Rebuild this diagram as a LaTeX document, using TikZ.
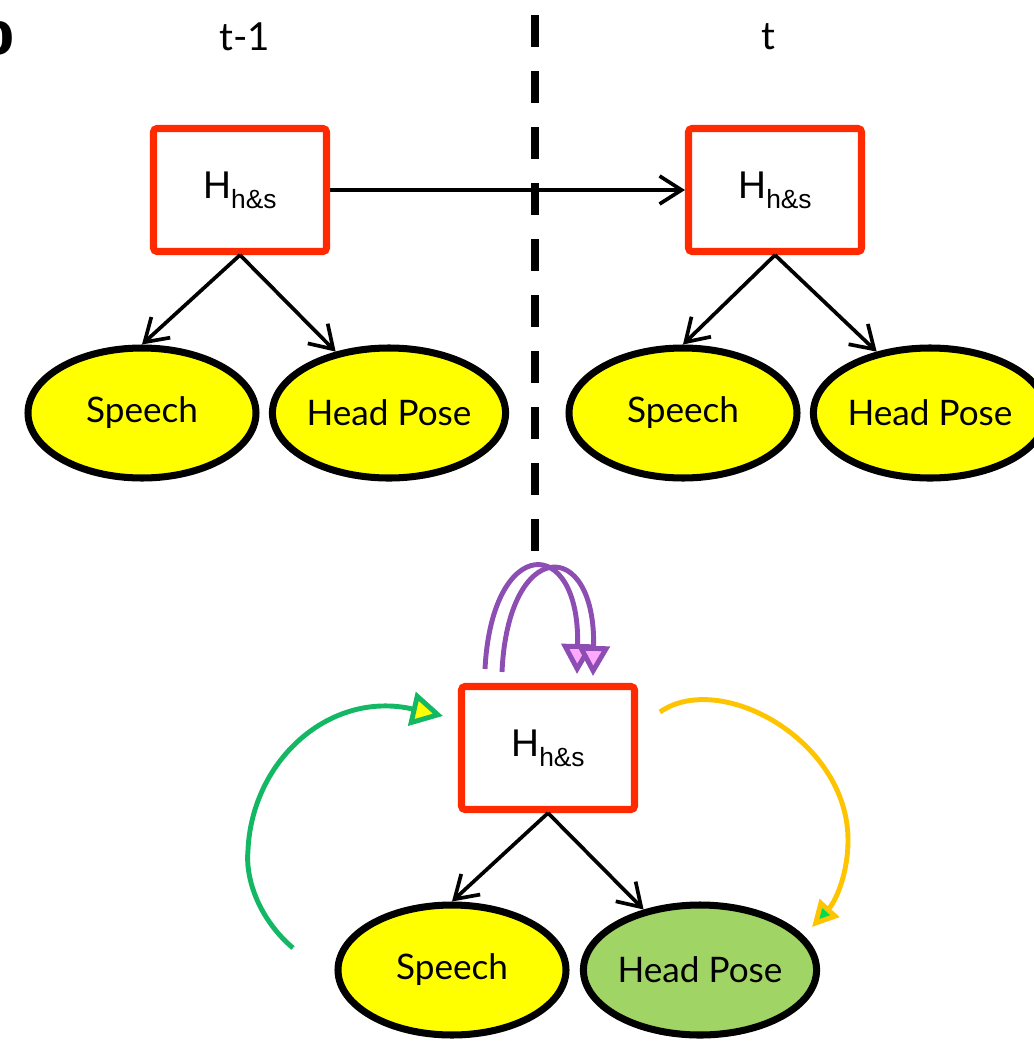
\documentclass[tikz,border=0pt]{standalone}
\usepackage{fontspec}
\setmainfont{Lato}
\newfontfamily\arialfont{Liberation Sans}
\usetikzlibrary{arrows.meta,shapes.geometric}
\definecolor{boxred}{RGB}{255,42,0}
\definecolor{obsyellow}{RGB}{255,255,0}
\definecolor{obsgreen}{RGB}{160,212,100}
\definecolor{loopviolet}{RGB}{140,78,178}
\definecolor{looppink}{RGB}{255,168,255}
\definecolor{arcgreen}{RGB}{20,184,100}
\definecolor{arcyellow}{RGB}{255,196,0}
\definecolor{tipgreen}{RGB}{0,220,80}
\newcommand{\hhs}{{\arialfont\fontsize{11pt}{13pt}\selectfont H\raisebox{-2.8pt}{\fontsize{7.5pt}{9pt}\selectfont h\&s}}}
\tikzset{hbox/.style={draw=boxred,line width=2pt,rounded corners=1pt,fill=white,minimum width=1.73cm,minimum height=1.23cm,inner sep=0pt},
  obs/.style={ellipse,draw,line width=2pt,fill=obsyellow,minimum width=2.28cm,minimum height=1.3cm,inner sep=0pt,font=\fontsize{10pt}{12pt}\selectfont},
  arr/.style={-{Straight Barb[length=2.2mm,width=2.8mm]},line width=1.05pt},
  selfloop/.style={draw=loopviolet,line width=1.4pt,-{Triangle[length=3mm,width=3.2mm,fill=looppink]}}}

\begin{document}
\begin{tikzpicture}
\useasboundingbox (0,0) rectangle (10.34,-10.42);
% panel letter, cut by the page edge
\node[font=\sffamily\bfseries\fontsize{20pt}{22pt}\selectfont,anchor=east,inner sep=0pt] (panel) at (0.16,-0.30) {b};
\node[font=\fontsize{11pt}{13pt}\selectfont] (tprev) at (2.45,-0.37) {t-1};
\node[font=\fontsize{11pt}{13pt}\selectfont] (tnow) at (7.68,-0.37) {t};
\draw[line width=0.08cm,dash pattern=on 0.32cm off 0.24cm] (5.35,-0.15) -- (5.35,-5.51);

% time slice t-1
\node[hbox] (h1) at (2.40,-1.90) {\hhs};
\node[obs] (s1) at (1.42,-4.13) {Speech};
\node[obs] (p1) at (3.89,-4.13) {Head Pose};
% time slice t
\node[hbox] (h2) at (7.75,-1.90) {\hhs};
\node[obs] (s2) at (6.83,-4.13) {Speech};
\node[obs] (p2) at (9.30,-4.13) {Head Pose};
\draw[arr] (h1.east) -- (h2.west);
\draw[arr] (h1.south) -- (s1.north);
\draw[arr] (h1.south) -- (p1.131);
\draw[arr] (h2.south) -- (s2.north);
\draw[arr] (h2.south) -- (p2.131);

% rolled-up model
\node[hbox] (hb) at (5.48,-7.48) {\hhs};
\node[obs] (s3) at (4.52,-9.70) {Speech};
\node[obs,fill=obsgreen] (p3) at (7.00,-9.70) {Head Pose};
\draw[arr] (hb.south) -- (s3.north);
\draw[arr] (hb.south) -- (p3.133);

\draw[selfloop] ([shift={(-0.63,0.14)}]hb.north) .. controls +(0.07,1.35) and +(0.03,1.4) .. ([shift={(0.29,0.09)}]hb.north);
\draw[selfloop] ([shift={(-0.46,0.11)}]hb.north) .. controls +(0.06,1.35) and +(0.03,1.4) .. ([shift={(0.45,0.07)}]hb.north);

\coordinate (gstart) at (2.93,-9.48);
\coordinate (gmid) at (2.48,-8.50);
\draw[arcgreen,line width=1.4pt,-{Triangle[length=3.2mm,width=3.4mm,fill=obsyellow]}] (gstart) .. controls (2.60,-9.20) and (2.45,-8.80) .. (gmid) .. controls (2.52,-7.60) and (3.30,-6.90) .. ([shift={(-0.15,-0.33)}]hb.north west);

\coordinate (ystart) at (6.60,-7.12);
\coordinate (ymid) at (8.48,-8.40);
\coordinate (yend) at (8.12,-9.27);
\draw[arcyellow,line width=1.4pt,-{Triangle[length=2.6mm,width=2.6mm,fill=tipgreen]}] (ystart) .. controls (7.20,-6.70) and (8.48,-7.40) .. (ymid) .. controls (8.48,-8.75) and (8.35,-9.02) .. (yend);
\end{tikzpicture}
\end{document}
